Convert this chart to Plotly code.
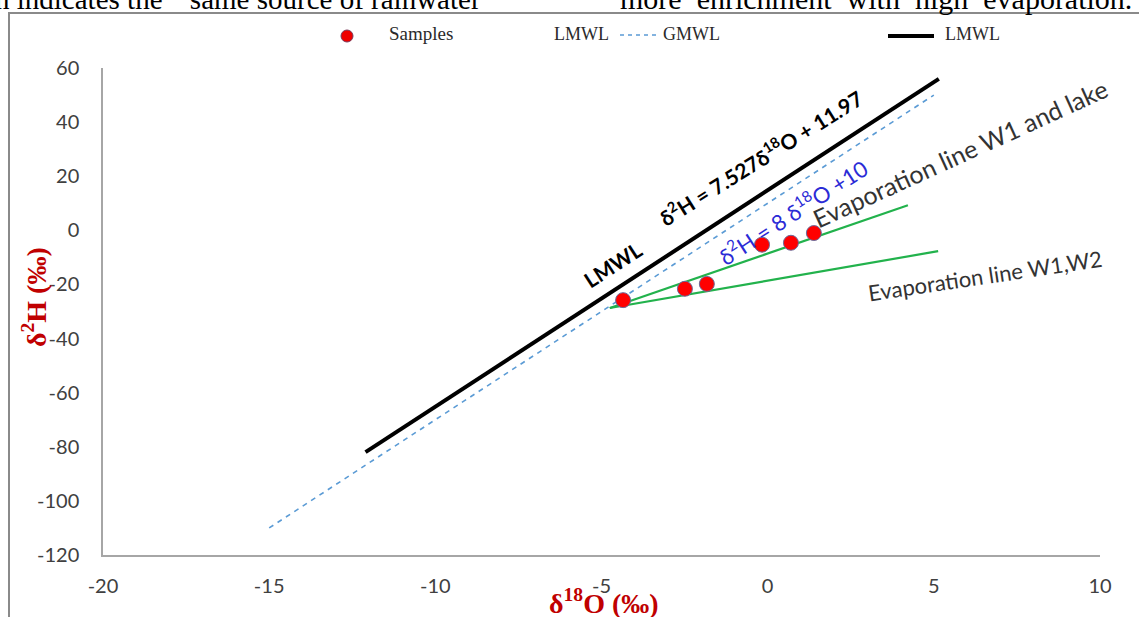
import plotly.graph_objects as go

# ---- data ----
sample_x = [-4.35, -2.49, -1.83, -0.17, 0.70, 1.39]
sample_y = [-25.8, -21.6, -19.8, -5.3, -4.6, -1.0]

lmwl_x = [-12.1, 5.15]
lmwl_y = [-82.0, 56.0]

gmwl_x = [-15.0, 5.0]
gmwl_y = [-110.0, 50.0]

evap1_x = [-4.75, 4.22]   # Evaporation line W1 and lake
evap1_y = [-28.7, 9.3]
evap2_x = [-4.75, 5.13]   # Evaporation line W1,W2
evap2_y = [-28.7, -7.7]

x_ticks = [-20, -15, -10, -5, 0, 5, 10]
y_ticks = [60, 40, 20, 0, -20, -40, -60, -80, -100, -120]

W, H = 1139, 617
ML, MR, MT, MB = 103, 39, 68, 62
PW, PH = W - ML - MR, H - MT - MB


def px(xp):
    return (xp - ML) / PW


def py(yp):
    return (H - MB - yp) / PH


fig = go.Figure()

fig.add_trace(go.Scatter(x=gmwl_x, y=gmwl_y, mode="lines",
                         line=dict(color="#5b9bd5", width=1.6, dash="5px,5px"),
                         showlegend=False, hoverinfo="skip"))
fig.add_trace(go.Scatter(x=lmwl_x, y=lmwl_y, mode="lines",
                         line=dict(color="black", width=4),
                         showlegend=False, hoverinfo="skip"))
fig.add_trace(go.Scatter(x=evap1_x, y=evap1_y, mode="lines",
                         line=dict(color="#22b24c", width=2.2),
                         showlegend=False, hoverinfo="skip"))
fig.add_trace(go.Scatter(x=evap2_x, y=evap2_y, mode="lines",
                         line=dict(color="#22b24c", width=2.2),
                         showlegend=False, hoverinfo="skip"))
fig.add_trace(go.Scatter(x=sample_x, y=sample_y, mode="markers",
                         marker=dict(color="#ff0000", size=15,
                                     line=dict(color="#6b6b9a", width=1)),
                         showlegend=False))

annotations = []

# cut-off sentence above the chart
annotations.append(dict(xref="paper", yref="paper", x=px(-7), y=py(17),
                        xanchor="left", yanchor="bottom", showarrow=False,
                        text="n indicates the  \u201csame source of rainwater",
                        font=dict(family="Liberation Serif", size=29, color="black")))
annotations.append(dict(xref="paper", yref="paper", x=px(1134), y=py(17),
                        xanchor="right", yanchor="bottom", showarrow=False,
                        text="more\u00a0 enrichment\u00a0 with\u00a0 high\u00a0 evaporation.",
                        font=dict(family="Liberation Serif", size=30, color="black")))

# legend (manual)
leg_font = dict(family="Liberation Serif", size=18, color="#2a2a2a")
for txt, xc, fs in [("Samples", 421, 19), ("LMWL", 581, 18), ("GMWL", 691, 18), ("LMWL", 972, 18)]:
    annotations.append(dict(xref="paper", yref="paper", x=px(xc), y=py(34),
                            xanchor="center", yanchor="middle", showarrow=False,
                            text=txt, font=dict(leg_font, size=fs)))

# line labels
annotations.append(dict(x=-4.66, y=-12.8, xref="x", yref="y", showarrow=False,
                        text="<b>LMWL</b>",
                        textangle=-33, font=dict(family="Lato", size=21, color="black")))
annotations.append(dict(x=-0.23, y=27.1, xref="x", yref="y", showarrow=False,
                        text="<b>\u03b4<sup>2</sup>H = 7.527\u03b4<sup>18</sup>O + 11.97</b>",
                        textangle=-32, font=dict(family="Lato", size=21, color="black")))
annotations.append(dict(x=0.76, y=6.8, xref="x", yref="y", showarrow=False,
                        text="\u03b4<sup>2</sup>H = 8 \u03b4<sup>18</sup>O +10",
                        textangle=-33, font=dict(family="Lato", size=22, color="#2b2bd6")))
annotations.append(dict(x=5.80, y=28.5, xref="x", yref="y", showarrow=False,
                        text="Evaporation line W1 and lake",
                        textangle=-24.5, font=dict(family="Lato", size=25, color="#333333")))
annotations.append(dict(x=6.55, y=-16.8, xref="x", yref="y", showarrow=False,
                        text="Evaporation line W1,W2",
                        textangle=-8.5, font=dict(family="Lato", size=22, color="#333333")))

# axis titles
title_font = dict(family="Liberation Serif", size=28, color="#c00000")
annotations.append(dict(xref="paper", yref="paper", x=px(604), y=py(601),
                        xanchor="center", yanchor="middle", showarrow=False,
                        text="<b>\u03b4<sup>18</sup>O (\u2030)</b>", font=title_font))
annotations.append(dict(xref="paper", yref="paper", x=px(34), y=py(297),
                        xanchor="center", yanchor="middle", showarrow=False,
                        textangle=-90,
                        text="<b>\u03b4<sup>2</sup>H (\u2030)</b>", font=title_font))

shapes = [
    # outer frame
    dict(type="rect", xref="paper", yref="paper",
         x0=px(9), x1=px(1160), y0=py(640), y1=py(13),
         line=dict(color="#8a8a8a", width=2), layer="above"),
    # legend symbols
    dict(type="circle", xref="paper", yref="paper",
         x0=px(341), x1=px(353), y0=py(42), y1=py(30),
         fillcolor="#ee0000", line=dict(color="#7a3a5a", width=1)),
    dict(type="line", xref="paper", yref="paper",
         x0=px(620), x1=px(656), y0=py(35), y1=py(35),
         line=dict(color="#5b9bd5", width=1.5, dash="4px,4px")),
    dict(type="line", xref="paper", yref="paper",
         x0=px(888), x1=px(934), y0=py(36), y1=py(36),
         line=dict(color="black", width=4)),
]

fig.update_layout(
    width=W, height=H,
    margin=dict(l=ML, r=MR, t=MT, b=MB),
    paper_bgcolor="white", plot_bgcolor="white",
    showlegend=False,
    annotations=annotations,
    shapes=shapes,
    xaxis=dict(range=[-20, 10], tickvals=x_ticks, ticktext=[str(v) for v in x_ticks],
               showgrid=False, zeroline=False, showline=True,
               linecolor="#a6a6a6", linewidth=1.5, ticks="",
               ticklabelstandoff=12,
               tickfont=dict(family="Lato", size=20, color="#404040")),
    yaxis=dict(range=[-120, 60], tickvals=y_ticks, ticktext=[str(v) for v in y_ticks],
               showgrid=False, zeroline=False, showline=True,
               linecolor="#a6a6a6", linewidth=1.5, ticks="",
               ticklabelstandoff=18,
               tickfont=dict(family="Lato", size=20, color="#404040")),
)

fig.write_html("out.html",
               config={"displayModeBar": False},
               post_script="document.body.style.margin='0';"
                           "document.body.style.overflow='hidden';")
